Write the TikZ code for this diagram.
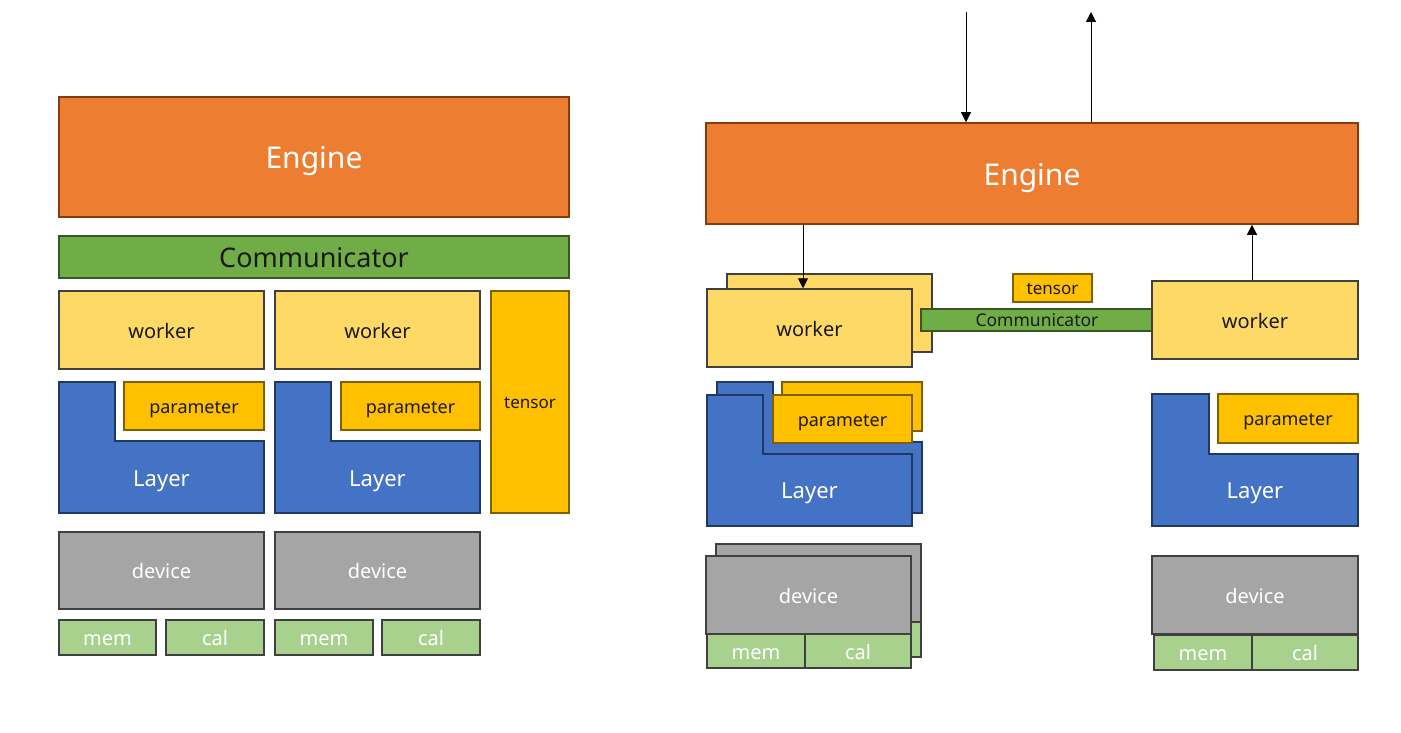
\documentclass[tikz,border=0pt]{standalone}
\usepackage{fontspec}
\setmainfont{Noto Sans}
\usepackage{tikz}
\usetikzlibrary{arrows.meta,positioning,calc}
\usepackage{xcolor}

\definecolor{engfill}{HTML}{ED7D31}
\definecolor{engline}{HTML}{843C0C}
\definecolor{comfill}{HTML}{70AD47}
\definecolor{comline}{HTML}{385723}
\definecolor{wkfill}{HTML}{FFD966}
\definecolor{boxline}{HTML}{404040}
\definecolor{parfill}{HTML}{FFC000}
\definecolor{parline}{HTML}{7F6000}
\definecolor{layfill}{HTML}{4472C4}
\definecolor{layline}{HTML}{1F3864}
\definecolor{devfill}{HTML}{A5A5A5}
\definecolor{memfill}{HTML}{A9D18E}
\definecolor{txtdark}{HTML}{1A1A1A}

\tikzset{
    base/.style={rectangle, inner sep=0pt, line width=1.5pt, text depth=0pt},
    engbox/.style={base, draw=engline, fill=engfill, text=white, font=\fontsize{30}{36}\selectfont,
        text height=24pt},
    combox/.style={base, draw=comline, fill=comfill, text=txtdark, font=\fontsize{27}{32}\selectfont,
        text height=21.6pt},
    wkbox/.style={base, draw=boxline, fill=wkfill, text=txtdark, font=\fontsize{20}{24}\selectfont,
        text height=16pt},
    parbox/.style={base, draw=parline, fill=parfill, text=txtdark, font=\fontsize{18}{22}\selectfont,
        text height=14.4pt},
    tenbox/.style={base, draw=parline, fill=parfill, text=txtdark, font=\fontsize{17}{20}\selectfont,
        text height=13.6pt},
    layerbox/.style={draw=layline, fill=layfill, line width=1.5pt},
    laytext/.style={inner sep=0pt, text=white, font=\fontsize{22}{26}\selectfont,
        text height=17.6pt, text depth=0pt},
    devbox/.style={base, draw=boxline, fill=devfill, text=white, font=\fontsize{20}{24}\selectfont,
        text height=16pt},
    membox/.style={base, draw=boxline, fill=memfill, text=white, font=\fontsize{20}{24}\selectfont,
        text height=16pt},
    commtext/.style={inner sep=0pt, text=txtdark, font=\fontsize{17.5}{20}\selectfont,
        text height=13.6pt, text depth=0pt},
    arr/.style={-{Triangle[width=10pt,length=10pt]}, line width=1pt, black}
}

\begin{document}
\begin{tikzpicture}[x=1pt, y=-1pt]
    \useasboundingbox (0,0) rectangle (1401,733);

    % ---- single machine ----
    \node[engbox, minimum width=510, minimum height=120] (eng1) at (314,157) {Engine};
    \node[combox, minimum width=510, minimum height=42] (com1) at (314,257) {Communicator};

    \node[wkbox, minimum width=205, minimum height=78] (wk1) at (161.5,330) {worker};
    \node[wkbox, minimum width=205, minimum height=78] (wk2) at (377.5,330) {worker};
    \node[tenbox, minimum width=78, minimum height=222] (ten1) at (530,402) {tensor};

    % Layers
    \draw[layerbox] (59,382) -- (115,382) -- (115,441) -- (264,441) -- (264,513) -- (59,513) -- cycle;
    \node[laytext] (lay1) at (161.5,478) {Layer};
    \node[parbox, minimum width=140, minimum height=48] (par1) at (194,406) {parameter};
    \draw[layerbox] (275,382) -- (331,382) -- (331,441) -- (480,441) -- (480,513) -- (275,513) -- cycle;
    \node[laytext] (lay2) at (377.5,478) {Layer};
    \node[parbox, minimum width=139, minimum height=48] (par2) at (410.5,406) {parameter};

    % Devices
    \node[devbox, minimum width=205, minimum height=77] (dev1) at (161.5,570.5) {device};
    \node[devbox, minimum width=205, minimum height=77] (dev2) at (377.5,570.5) {device};
    \node[membox, minimum width=97, minimum height=35] (mem1) at (107.5,637.5) {mem};
    \node[membox, minimum width=98, minimum height=35] (cal1) at (215,637.5) {cal};
    \node[membox, minimum width=98, minimum height=35] (mem2) at (324,637.5) {mem};
    \node[membox, minimum width=98, minimum height=35] (cal2) at (431,637.5) {cal};

    % ---- distributed ----
    \node[engbox, minimum width=652, minimum height=101] (eng2) at (1032,173.5) {Engine};

    \node[wkbox, minimum width=205, minimum height=78] (wkb) at (829.5,313) {};
    \node[combox, minimum width=232, minimum height=16,
          label={[commtext]center:Communicator}] (com2) at (1037,320) {};
    \node[wkbox, minimum width=205, minimum height=78] (wkf) at (809.5,328) {worker};
    \node[tenbox, minimum width=79, minimum height=28] (ten2) at (1052.5,288) {tensor};
    \node[wkbox, minimum width=206, minimum height=78] (wk3) at (1255,320) {worker};

    % stacked layers
    \draw[layerbox] (717,382) -- (773,382) -- (773,442) -- (922,442) -- (922,513) -- (717,513) -- cycle;
    \node[parbox, minimum width=140, minimum height=49] (parb) at (852,406.5) {};
    \draw[layerbox] (707,395) -- (763,395) -- (763,454) -- (912,454) -- (912,526) -- (707,526) -- cycle;
    \node[laytext] (layf) at (809.5,490) {Layer};
    \node[parbox, minimum width=139, minimum height=48] (parf) at (842.5,419) {parameter};

    \draw[layerbox] (1152,394) -- (1209,394) -- (1209,454) -- (1358,454) -- (1358,526) -- (1152,526) -- cycle;
    \node[laytext] (lay3) at (1255,490) {Layer};
    \node[parbox, minimum width=140, minimum height=49] (par3) at (1288,418.5) {parameter};

    % stacked devices
    \node[membox, minimum width=98, minimum height=35] (memb) at (766,639.5) {};
    \node[membox, minimum width=106, minimum height=35] (calb) at (868,639.5) {};
    \node[devbox, minimum width=205, minimum height=78] (devb) at (818.5,583) {};
    \node[devbox, minimum width=205, minimum height=78] (devf) at (808.5,595) {device};
    \node[membox, minimum width=98, minimum height=34] (memf) at (756,651) {mem};
    \node[membox, minimum width=106, minimum height=34] (calf) at (858,651) {cal};

    \node[devbox, minimum width=206, minimum height=78] (dev3) at (1255,595) {device};
    \node[membox, minimum width=98, minimum height=35] (mem3) at (1203,652.5) {mem};
    \node[membox, minimum width=106, minimum height=35] (cal3) at (1305,652.5) {cal};

    % data flow
    \coordinate (in) at (966,12);
    \coordinate (out) at (1091,12);
    \draw[arr] (in) -- (in |- eng2.north);
    \draw[arr] (out |- eng2.north) -- (out);
    \draw[arr] ([xshift=-6.5pt]wkf.north |- eng2.south) -- ([xshift=-6.5pt]wkf.north);
    \draw[arr] ([xshift=-3pt]wk3.north) -- ([xshift=-3pt]wk3.north |- eng2.south);
\end{tikzpicture}
\end{document}
